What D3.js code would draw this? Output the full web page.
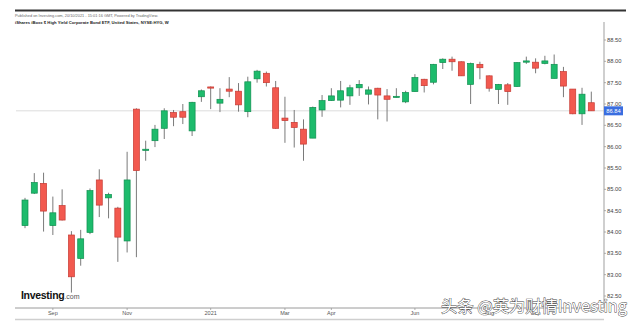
<!DOCTYPE html>
<html><head><meta charset="utf-8">
<script src="https://cdn.jsdelivr.net/npm/d3@7/dist/d3.min.js"></script>
<style>
html,body{margin:0;padding:0;background:#fff;}
svg{display:block;}
</style></head>
<body><svg id="c" width="640" height="324"></svg>
<script>
const weeks = ["2020-08-17","2020-08-24","2020-08-31","2020-09-07","2020-09-14","2020-09-21","2020-09-28","2020-10-05","2020-10-12","2020-10-19","2020-10-26","2020-11-02","2020-11-09","2020-11-16","2020-11-23","2020-11-30","2020-12-07","2020-12-14","2020-12-21","2020-12-28","2021-01-04","2021-01-11","2021-01-18","2021-01-25","2021-02-01","2021-02-08","2021-02-15","2021-02-22","2021-03-01","2021-03-08","2021-03-15","2021-03-22","2021-03-29","2021-04-05","2021-04-12","2021-04-19","2021-04-26","2021-05-03","2021-05-10","2021-05-17","2021-05-24","2021-05-31","2021-06-07","2021-06-14","2021-06-21","2021-06-28","2021-07-05","2021-07-12","2021-07-19","2021-07-26","2021-08-02","2021-08-09","2021-08-16","2021-08-23","2021-08-30","2021-09-06","2021-09-13","2021-09-20","2021-09-27","2021-10-04","2021-10-11","2021-10-18"];
const open  = [84.15,84.91,85.14,84.15,84.62,83.93,83.38,83.99,85.22,84.80,84.56,83.79,86.88,85.92,86.14,86.43,86.80,86.82,86.37,87.17,87.40,87.02,87.35,87.30,86.82,87.59,87.72,87.38,86.67,86.57,86.41,86.20,86.86,87.08,87.09,87.19,87.38,87.23,87.37,87.19,87.16,87.05,87.29,87.58,87.51,87.97,88.05,87.99,87.46,87.93,87.66,87.34,87.45,87.41,87.98,87.98,87.95,87.60,87.76,87.35,86.77,87.03];
const high  = [84.80,85.38,85.39,84.83,85.00,84.02,84.05,85.02,85.47,84.92,84.59,85.88,86.90,86.14,86.51,86.90,86.86,87.00,87.05,87.34,87.41,87.37,87.63,87.49,87.64,87.80,87.76,87.54,87.17,86.86,86.64,86.94,87.21,87.37,87.54,87.45,87.56,87.41,87.38,87.35,87.37,87.31,87.70,87.59,87.94,88.07,88.11,88.00,87.97,87.99,87.67,87.47,87.49,87.98,88.11,88.07,88.13,88.16,87.87,87.35,87.38,87.29];
const low   = [84.09,84.89,84.01,83.93,84.27,82.58,83.21,83.95,84.35,84.32,83.30,83.52,83.41,85.67,85.99,86.18,86.48,86.53,86.25,87.05,86.88,86.81,87.16,86.82,86.69,87.50,87.41,86.42,86.09,85.98,85.67,86.20,86.70,87.07,86.92,86.98,87.19,86.99,86.64,86.59,87.15,87.02,87.29,87.27,87.46,87.82,87.78,87.66,87.00,87.58,87.29,87.00,86.98,87.40,87.94,87.72,87.93,87.60,87.16,86.76,86.51,86.84];
const close = [84.75,85.16,84.49,84.45,84.28,82.95,83.84,84.97,84.63,84.88,83.88,85.22,85.44,85.94,86.41,86.84,86.69,86.69,87.04,87.31,87.38,87.11,87.30,86.98,87.52,87.77,87.50,86.43,86.61,86.45,86.06,86.92,87.08,87.19,87.31,87.38,87.46,87.33,87.21,87.11,87.18,87.27,87.62,87.43,87.93,88.05,87.99,87.66,87.95,87.85,87.37,87.46,87.29,87.97,88.01,87.84,88.01,87.93,87.42,86.77,87.23,86.84];
const yTicks = [82.5,83.0,83.5,84.0,84.5,85.0,85.5,86.0,86.5,87.0,87.5,88.0,88.5];
const xTickWeeks  = ["2020-09-07","2020-11-02","2021-01-04","2021-03-01","2021-04-05","2021-06-07","2021-08-02","2021-09-06"];
const xTickLabels = ["Sep","Nov","2021","Mar","Apr","Jun","Aug","Sep"];
const lastPrice = 86.84;

const svg = d3.select("#c");
const FONT = "'Liberation Sans', Arial, sans-serif";
const x = d3.scalePoint().domain(weeks).range([25, 591.3]);
const y = d3.scaleLinear().domain([82.5, 88.5]).range([296, 40]);
const UP = "#1dbb6c", UPB = "#0f8f4f", DN = "#f2594f", DNB = "#c63a33";

// header
svg.append("line").attr("x1",15).attr("x2",626).attr("y1",10.5).attr("y2",10.5).attr("stroke","#333").attr("stroke-width",2);
svg.append("text").attr("x",15).attr("y",17).attr("font-family",FONT).attr("font-size",3.9).attr("fill","#666")
  .text("Published on Investing.com, 20/10/2021 - 15:01:16 GMT, Powered by TradingView.");
svg.append("text").attr("x",15).attr("y",24).attr("font-family",FONT).attr("font-size",4.2).attr("font-weight","bold").attr("fill","#222")
  .text("iShares iBoxx $ High Yield Corporate Bond ETF, United States, NYSE:HYG, W");

// last price line
svg.append("line").attr("x1",16).attr("x2",604).attr("y1",y(lastPrice)).attr("y2",y(lastPrice)).attr("stroke","#dcdcdc").attr("stroke-width",1);

// candles
const idx = d3.range(weeks.length);
const g = svg.append("g");
g.selectAll("line.w").data(idx).join("line").attr("class","w")
  .attr("x1",i=>x(weeks[i])).attr("x2",i=>x(weeks[i]))
  .attr("y1",i=>y(high[i])).attr("y2",i=>y(low[i]))
  .attr("stroke","#7a7a7a").attr("stroke-width",1);
g.selectAll("rect.b").data(idx).join("rect").attr("class","b")
  .attr("x",i=>x(weeks[i])-3).attr("width",6)
  .attr("y",i=>y(Math.max(open[i],close[i])))
  .attr("height",i=>Math.max(1.2, Math.abs(y(open[i])-y(close[i]))))
  .attr("fill",i=>close[i]>=open[i]?UP:DN)
  .attr("stroke",i=>close[i]>=open[i]?UPB:DNB).attr("stroke-width",0.7);

// y axis
svg.append("line").attr("x1",604).attr("x2",604).attr("y1",22).attr("y2",308).attr("stroke","#b5b5b5").attr("stroke-width",1.3);
const ya = svg.append("g");
ya.selectAll("text").data(yTicks).join("text")
  .attr("x",607).attr("y",d=>y(d)+2).attr("font-family",FONT).attr("font-size",5.8).attr("fill","#444")
  .text(d=>d3.format(".2f")(d));
ya.selectAll("line").data(yTicks).join("line")
  .attr("x1",604).attr("x2",606).attr("y1",d=>y(d)).attr("y2",d=>y(d)).attr("stroke","#999").attr("stroke-width",0.8);

// last price label
svg.append("rect").attr("x",604).attr("y",y(lastPrice)-4.5).attr("width",19).attr("height",9).attr("fill","#3a6ee0");
svg.append("text").attr("x",613.5).attr("y",y(lastPrice)+2).attr("text-anchor","middle").attr("font-family",FONT)
  .attr("font-size",5.8).attr("fill","#fff").text(d3.format(".2f")(lastPrice));

// x axis
svg.append("line").attr("x1",15).attr("x2",604).attr("y1",308).attr("y2",308).attr("stroke","#9a9a9a").attr("stroke-width",1);
svg.append("line").attr("x1",15).attr("x2",604).attr("y1",319.5).attr("y2",319.5).attr("stroke","#cfcfcf").attr("stroke-width",1.5);
const xa = svg.append("g");
xa.selectAll("text").data(xTickWeeks).join("text")
  .attr("x",d=>x(d)).attr("y",314.5).attr("text-anchor","middle").attr("font-family",FONT).attr("font-size",5.5).attr("fill","#555")
  .text((d,i)=>xTickLabels[i]);
xa.selectAll("line").data(xTickWeeks).join("line")
  .attr("x1",d=>x(d)).attr("x2",d=>x(d)).attr("y1",308).attr("y2",310).attr("stroke","#999").attr("stroke-width",0.8);

// logo
const logo = svg.append("text").attr("x",21).attr("y",299).attr("font-family",FONT);
logo.append("tspan").attr("font-size",10.5).attr("font-weight","bold").attr("fill","#111").attr("letter-spacing",-0.3).text("Investing");
logo.append("tspan").attr("font-size",7).attr("fill","#555").text(".com");

// watermark
svg.append("text").attr("x",441).attr("y",312).attr("font-family","'Noto Sans CJK SC', 'Noto Sans', sans-serif")
  .attr("font-size",15.5).attr("fill","#fff").attr("stroke","#444").attr("stroke-width",0.8).attr("paint-order","stroke")
  .attr("textLength",186).attr("lengthAdjust","spacingAndGlyphs")
  .text("头条 @英为财情Investing");
</script></body></html>
